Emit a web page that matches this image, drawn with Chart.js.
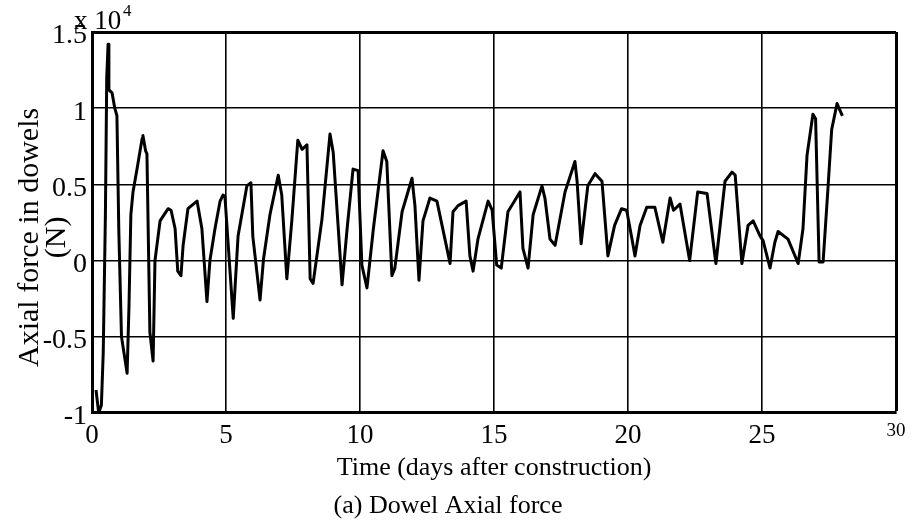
<!DOCTYPE html>
<html>
<head>
<meta charset="utf-8">
<script src="https://cdn.jsdelivr.net/npm/chart.js@4/dist/chart.umd.min.js"></script>
<style>
  html, body { margin: 0; padding: 0; background: #fff; }
  canvas { display: block; }
</style>
</head>
<body>
<canvas id="grafica" width="914" height="527"></canvas>
<script>
// time in days after construction
let dias = [0.15, 0.25, 0.35, 0.42, 0.5, 0.55, 0.6, 0.63, 0.75, 0.85, 0.93, 1.0,
  1.1, 1.31, 1.38, 1.45, 1.53, 1.68, 1.87, 1.9, 2.0, 2.05, 2.16, 2.28, 2.35, 2.54,
  2.84, 2.95, 3.1, 3.2, 3.32, 3.4, 3.58, 3.92, 4.1, 4.29, 4.4, 4.59, 4.78, 4.89,
  4.96, 5.27, 5.45, 5.78, 5.93, 6.0, 6.27, 6.4, 6.64, 6.95, 7.08, 7.27, 7.46,
  7.68, 7.84, 8.02, 8.14, 8.25, 8.58, 8.88, 9.0, 9.33, 9.52, 9.74, 9.93, 10.07,
  10.26, 10.5, 10.86, 11.0, 11.19, 11.3, 11.57, 11.94, 12.05, 12.2, 12.35, 12.61,
  12.87, 13.17, 13.36, 13.47, 13.66, 13.96, 14.1, 14.22, 14.4, 14.78, 14.93,
  15.1, 15.27, 15.52, 15.97, 16.08, 16.27, 16.46, 16.79, 16.9, 17.09, 17.28,
  17.65, 18.02, 18.1, 18.25, 18.5, 18.77, 19.03, 19.25, 19.5, 19.76, 19.95,
  20.15, 20.26, 20.45, 20.7, 21.0, 21.3, 21.57, 21.7, 21.94, 22.3, 22.6, 22.95,
  23.28, 23.62, 23.88, 24.0, 24.25, 24.48, 24.67, 24.93, 25.04, 25.3, 25.48,
  25.6, 25.97, 26.35, 26.53, 26.68, 26.9, 27.0, 27.13, 27.28, 27.46, 27.6, 27.8, 28.0];

// axial force, x 10^4 N
let fuerza = [-0.85, -1.0, -0.95, -0.6, 0.3, 1.2, 1.42, 1.12, 1.1, 1.0, 0.95, 0.2,
  -0.5, -0.74, -0.3, 0.3, 0.45, 0.6, 0.8, 0.82, 0.72, 0.7, -0.47, -0.66, 0.0, 0.26,
  0.34, 0.33, 0.21, -0.07, -0.1, 0.1, 0.34, 0.39, 0.21, -0.27, 0.0, 0.21, 0.39, 0.43,
  0.42, -0.38, 0.16, 0.49, 0.51, 0.16, -0.26, 0.01, 0.3, 0.56, 0.43, -0.12, 0.27,
  0.79, 0.73, 0.76, -0.12, -0.15, 0.27, 0.83, 0.71, -0.16, 0.21, 0.6, 0.59, -0.03,
  -0.18, 0.21, 0.72, 0.65, -0.1, -0.05, 0.32, 0.54, 0.36, -0.13, 0.26, 0.41,
  0.39, 0.14, -0.02, 0.32, 0.36, 0.39, 0.03, -0.07, 0.14, 0.39, 0.33,
  -0.03, -0.05, 0.32, 0.45, 0.08, -0.05, 0.3, 0.49, 0.41, 0.14, 0.1,
  0.45, 0.65, 0.52, 0.11, 0.49, 0.57, 0.52, 0.03, 0.23, 0.34, 0.33,
  0.14, 0.03, 0.23, 0.35, 0.35, 0.12, 0.41, 0.33, 0.37, 0.0, 0.45, 0.44,
  -0.02, 0.52, 0.58, 0.56, -0.02, 0.23, 0.26, 0.16, 0.13, -0.05, 0.12,
  0.19, 0.14, -0.02, 0.21, 0.69, 0.96, 0.93, -0.01, -0.01, 0.47, 0.86, 1.03, 0.95];

let ticksX = [0, 5, 10, 15, 20, 25, 30];
let ticksY = [-1, -0.5, 0, 0.5, 1, 1.5];

let puntos = dias.map((d, i) => ({x: d, y: fuerza[i]}));
let letra = "'Liberation Serif', 'Times New Roman', serif";

// the "x 10^4" multiplier above the axis
let exponente = {
  id: "exponente",
  afterDraw(chart) {
    let c = chart.ctx;
    c.save();
    c.fillStyle = "#000";
    c.textBaseline = "alphabetic";
    c.font = "27px " + letra;
    c.fillText("x 10", 74, 29);
    c.font = "17px " + letra;
    c.fillText("4", 123, 16);
    c.restore();
  }
};

let miGrafica = document.getElementById("grafica").getContext("2d");

var chart = new Chart(miGrafica, {
  type: "scatter",
  data: {
    datasets: [{
      data: puntos,
      showLine: true,
      borderColor: "#000",
      borderWidth: 3,
      borderJoinStyle: "round",
      pointRadius: 0,
      tension: 0
    }]
  },
  options: {
    responsive: false,
    animation: false,
    layout: { padding: { top: 32, right: 18, left: 0, bottom: 0 } },
    plugins: {
      legend: { display: false },
      tooltip: { enabled: false },
      title: {
        display: true,
        position: "bottom",
        text: "(a) Dowel Axial force",
        color: "#000",
        font: { family: letra, size: 26, weight: "normal", lineHeight: 1.2 },
        padding: { top: 0, bottom: 5 }
      }
    },
    scales: {
      x: {
        type: "linear",
        min: 0,
        max: 30,
        afterBuildTicks: s => { s.ticks = ticksX.map(v => ({value: v})); },
        afterFit: s => { s.height = 78; },
        ticks: {
          color: "#000",
          padding: 7,
          maxRotation: 0,
          font: ctx => ({ family: letra, size: ctx.tick && ctx.tick.value === 30 ? 19 : 27 })
        },
        grid: {
          color: "#000",
          lineWidth: ctx => ctx.tick && ctx.tick.value === 30 ? 3 : 1.6,
          drawTicks: false
        },
        border: { display: true, color: "#000", width: 3 },
        title: {
          display: true,
          text: "Time (days after construction)",
          color: "#000",
          font: { family: letra, size: 26, lineHeight: 1.2 },
          padding: { top: 0, bottom: 7 }
        }
      },
      y: {
        min: -1,
        max: 1.5,
        afterBuildTicks: s => { s.ticks = ticksY.map(v => ({value: v})); },
        afterFit: s => { s.width = 92; },
        ticks: {
          color: "#000",
          padding: 5,
          labelOffset: 4,
          font: { family: letra, size: 28 },
          callback: v => String(v)
        },
        grid: {
          color: "#000",
          lineWidth: ctx => ctx.tick && ctx.tick.value === 1.5 ? 3 : 1.6,
          drawTicks: false
        },
        border: { display: true, color: "#000", width: 3 },
        title: {
          display: true,
          text: ["Axial force in dowels    ", "(N)    "],
          color: "#000",
          font: { family: letra, size: 30, lineHeight: 0.9 },
          padding: { top: 17, bottom: 0 }
        }
      }
    }
  },
  plugins: [exponente]
});
</script>
</body>
</html>
